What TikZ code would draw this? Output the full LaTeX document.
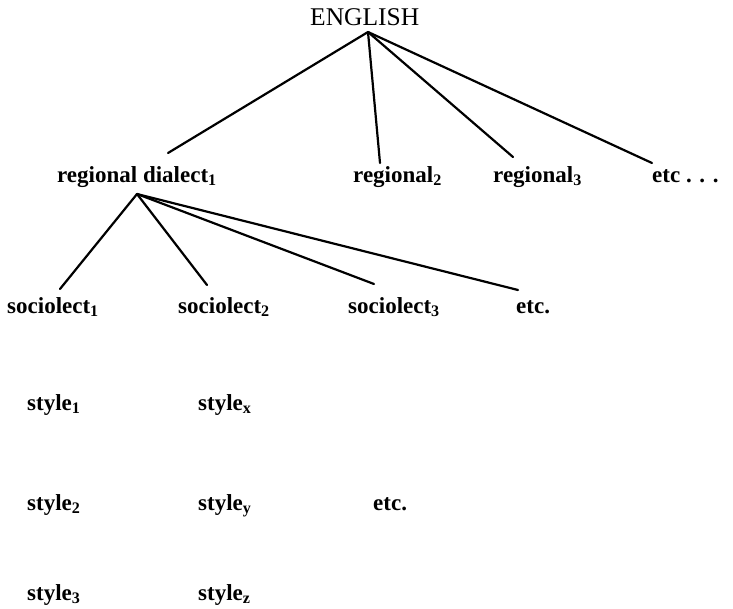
\documentclass[tikz,border=0pt]{standalone}
\usepackage{fontspec}
\setmainfont{Liberation Serif}
\begin{document}
\begin{tikzpicture}[x=1pt,y=-1pt,
  lbl/.style={anchor=base west,inner sep=0pt,font=\fontsize{23}{27}\selectfont\bfseries},
  toplbl/.style={anchor=base west,inner sep=0pt,font=\fontsize{25.5}{30}\selectfont},
  edge/.style={line width=2.2pt,line cap=round}]
\useasboundingbox (0,0) rectangle (733,608);
% labels
\node[toplbl] (eng) at (310,25) {ENGLISH};
\node[lbl] (rd1) at (57,182) {regional dialect\textsubscript{1}};
\node[lbl] (rd2) at (353,182) {regional\textsubscript{2}};
\node[lbl] (rd3) at (493,182) {regional\textsubscript{3}};
\node[lbl] (rdx) at (652,182) {etc . . .};
\node[lbl] (so1) at (7,313) {sociolect\textsubscript{1}};
\node[lbl] (so2) at (178,313) {sociolect\textsubscript{2}};
\node[lbl] (so3) at (348,313) {sociolect\textsubscript{3}};
\node[lbl] (sox) at (516,313) {etc.};
\node[lbl] (st1) at (27,410) {style\textsubscript{1}};
\node[lbl] (stx) at (198,410) {style\textsubscript{x}};
\node[lbl] (st2) at (27,510) {style\textsubscript{2}};
\node[lbl] (sty) at (198,510) {style\textsubscript{y}};
\node[lbl] (stetc) at (373,510) {etc.};
\node[lbl] (st3) at (27,600) {style\textsubscript{3}};
\node[lbl] (stz) at (198,600) {style\textsubscript{z}};
% connector end points
\coordinate (engA) at (368,32);
\coordinate (e1) at (168,153);
\coordinate (e2) at (380,163);
\coordinate (e3) at (513,157);
\coordinate (e4) at (652,163);
\coordinate (rdA) at (137,194);
\coordinate (s1) at (60,289);
\coordinate (s2) at (207,285);
\coordinate (s3) at (374,284);
\coordinate (s4) at (518,290);
% connectors
\foreach \t in {e1,e2,e3,e4} \draw[edge] (engA) -- (\t);
\foreach \t in {s1,s2,s3,s4} \draw[edge] (rdA) -- (\t);
\end{tikzpicture}
\end{document}
